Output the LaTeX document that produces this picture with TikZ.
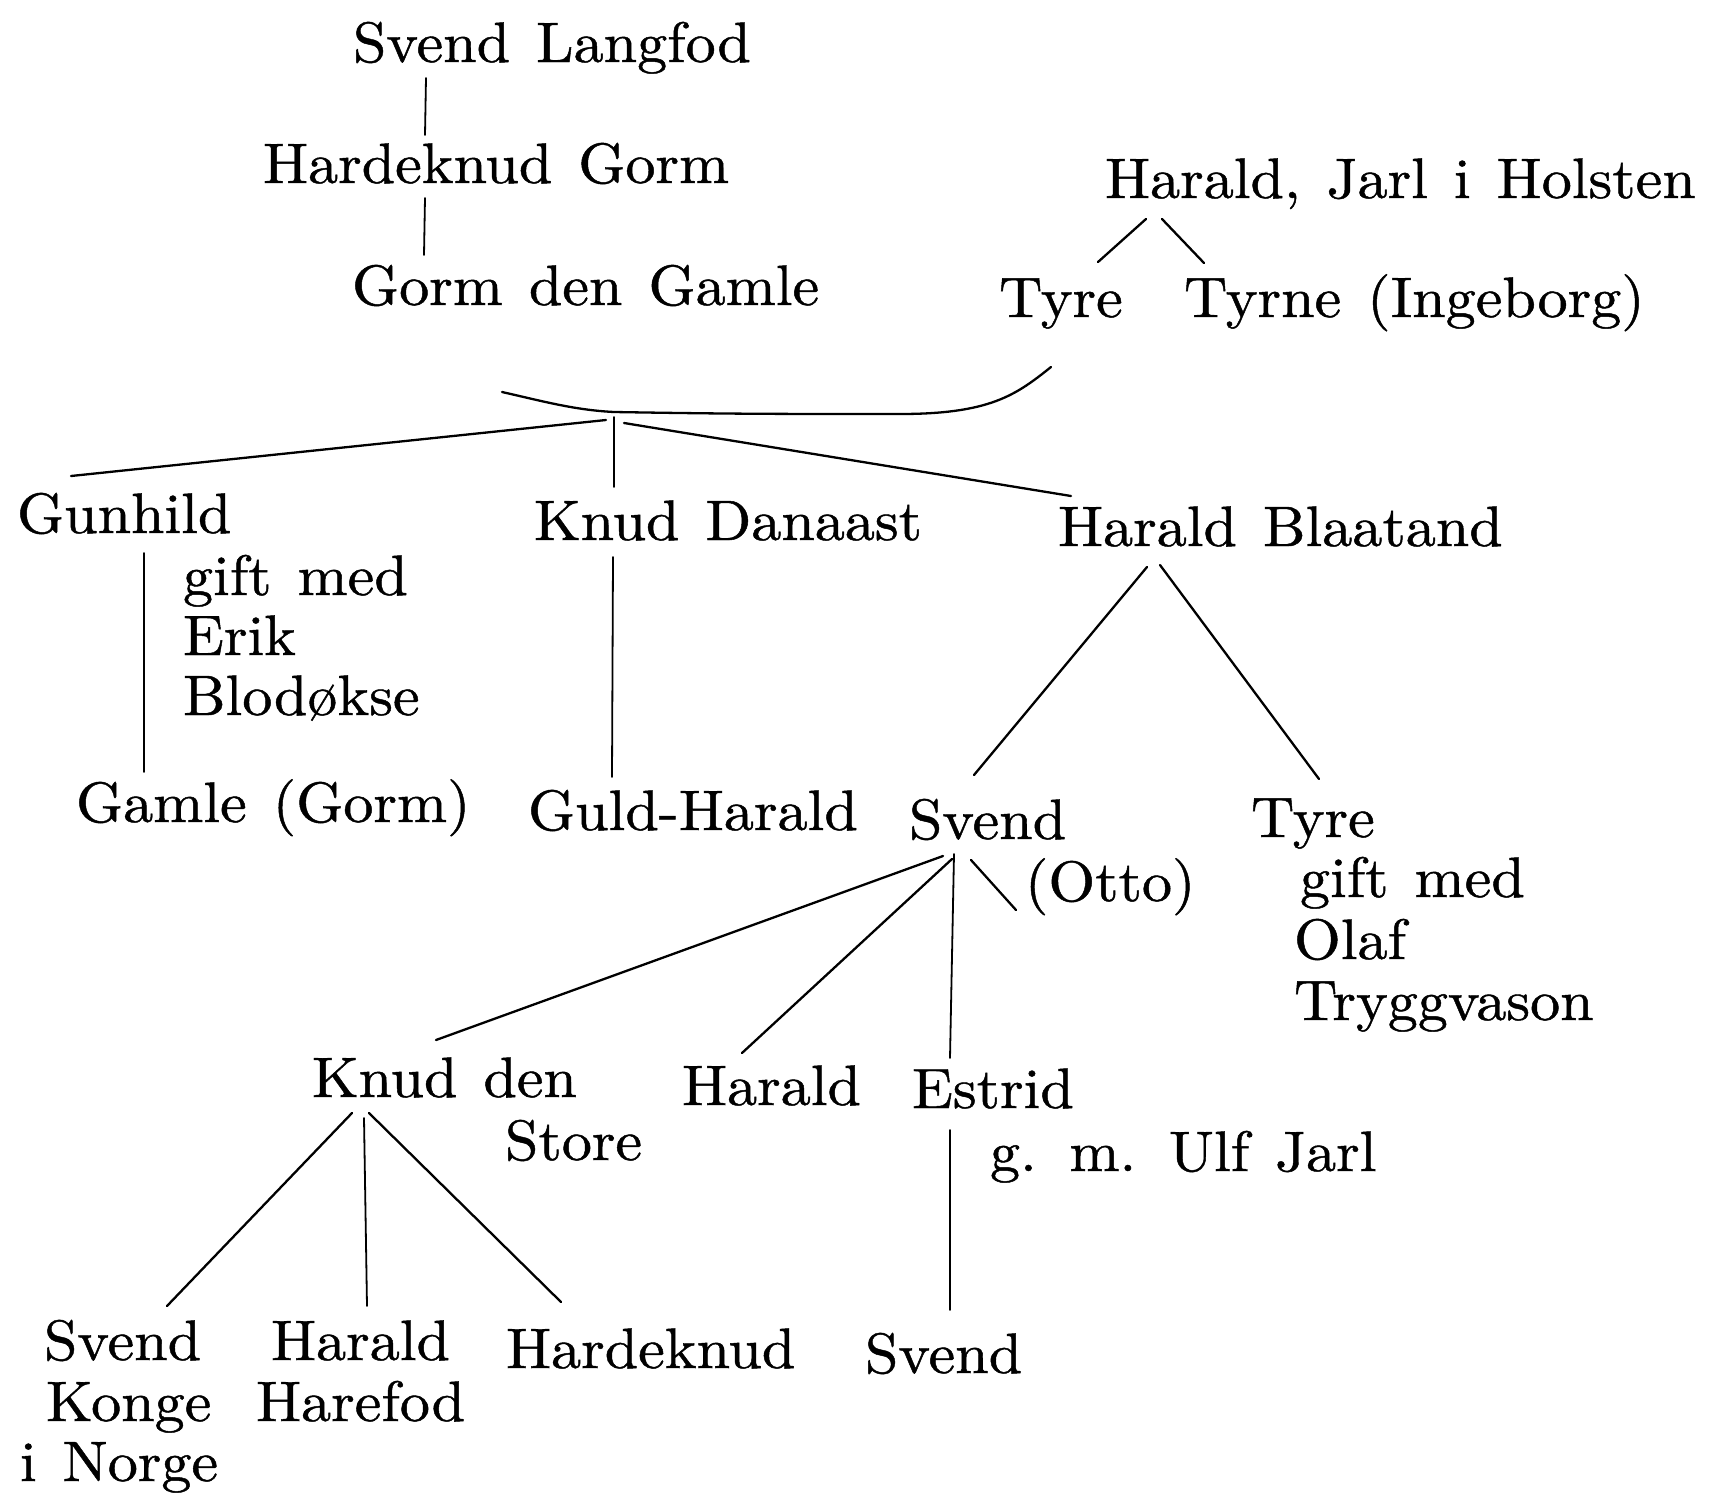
\documentclass[tikz,border=0pt]{standalone}
\usepackage{fontspec}
\newfontfamily\treefont{lmroman10-regular}[Extension=.otf,FakeStretch=1.055,FakeBold=0.8]
\begin{document}
\begin{tikzpicture}[x=1pt,y=-1pt,
  lbl/.style={anchor=base west,inner sep=0pt,outer sep=0pt,
    font={\treefont\fontsize{57}{68}\selectfont\spaceskip=26pt\relax}},
  con/.style={line width=2.3pt,line cap=round},
  thin con/.style={line width=1.8pt,line cap=round}]
\useasboundingbox[fill=white] (0,0) rectangle (1716,1494);
% nodes
\node[lbl] (sl) at (353,62) {Svend Langfod};
\node[lbl] (hg) at (263,183) {Hardeknud Gorm};
\node[lbl] (gg) at (352,305) {Gorm den Gamle};
\node[lbl] (hj) at (1105,198) {Harald, Jarl i Holsten};
\node[lbl] (ty1) at (999,317) {Tyre};
\node[lbl] (tyi) at (1184,317) {Tyrne (Ingeborg)};
\node[lbl] (gun) at (17,533) {Gunhild};
\node[lbl] (gm1) at (183,595) {gift med};
\node[lbl] (erik) at (183,655) {Erik};
\node[lbl] (blod) at (183,715) {Blodøkse};
\node[lbl] (kd) at (534,540) {Knud Danaast};
\node[lbl] (hb) at (1058,546) {Harald Blaatand};
\node[lbl] (gam) at (76,822) {Gamle (Gorm)};
\node[lbl] (guld) at (528,830) {Guld-Harald};
\node[lbl] (sv) at (909,839) {Svend};
\node[lbl] (otto) at (1025,901) {(Otto)};
\node[lbl] (ty2) at (1251,837) {Tyre};
\node[lbl] (gm2) at (1300,897) {gift med};
\node[lbl] (olaf) at (1294,959) {Olaf};
\node[lbl] (tryg) at (1294,1020) {Tryggvason};
\node[lbl] (knud) at (312,1097) {Knud den};
\node[lbl] (store) at (505,1160) {Store};
\node[lbl] (har) at (682,1105) {Harald};
\node[lbl] (est) at (912,1108) {Estrid};
\node[lbl] (gmu) at (990,1171) {g. m. Ulf Jarl};
\node[lbl] (svk) at (44,1360) {Svend};
\node[lbl] (konge) at (46,1421) {Konge};
\node[lbl] (inorge) at (20,1481) {i Norge};
\node[lbl] (hh) at (271,1360) {Harald};
\node[lbl] (harefod) at (256,1421) {Harefod};
\node[lbl] (hk) at (506,1368) {Hardeknud};
\node[lbl] (svb) at (865,1373) {Svend};
% connectors
\draw[thin con] ([shift={(73,16)}]sl.base west) -- ([shift={(162,-48)}]hg.base west);
\draw[thin con] ([shift={(162,15)}]hg.base west) -- ([shift={(72,-50)}]gg.base west);
\draw[con] ([shift={(41,21)}]hj.base west) -- ([shift={(99,-55)}]ty1.base west);
\draw[con] ([shift={(57,21)}]hj.base west) -- ([shift={(20,-54)}]tyi.base west);
% marriage
\coordinate (mar) at (614,412);
\coordinate (marR) at (900,414);
\draw[con] ([shift={(150,87)}]gg.base west) .. controls +(40,9) and +(-40,-2) .. (mar)
  .. controls +(120,2) and +(-120,0) .. (marR)
  .. controls +(90,0) and +(-35,28) .. ([shift={(52,50)}]ty1.base west);
\draw[thin con] ([shift={(0,5)}]mar) -- ([shift={(80,-53)}]kd.base west);
\draw[con] ([shift={(-8,8)}]mar) -- ([shift={(54,-57)}]gun.base west);
\draw[con] ([shift={(10,11)}]mar) -- ([shift={(13,-50)}]hb.base west);
% generation 2
\draw[thin con] ([shift={(127,20)}]gun.base west) -- ([shift={(68,-50)}]gam.base west);
\draw[thin con] ([shift={(79,17)}]kd.base west) -- ([shift={(84,-53)}]guld.base west);
\draw[con] ([shift={(89,21)}]hb.base west) -- ([shift={(65,-64)}]sv.base west);
\draw[con] ([shift={(102,19)}]hb.base west) -- ([shift={(68,-58)}]ty2.base west);
% generation 3
\draw[con] ([shift={(34,17)}]sv.base west) -- ([shift={(124,-57)}]knud.base west);
\draw[con] ([shift={(43,20)}]sv.base west) -- ([shift={(60,-52)}]har.base west);
\draw[thin con] ([shift={(45,15)}]sv.base west) -- ([shift={(38,-50)}]est.base west);
\draw[con] ([shift={(62,21)}]sv.base west) -- ([shift={(-9,9)}]otto.base west);
\draw[thin con] ([shift={(38,22)}]est.base west) -- ([shift={(85,-63)}]svb.base west);
% generation 4
\draw[con] ([shift={(40,16)}]knud.base west) -- ([shift={(123,-54)}]svk.base west);
\draw[thin con] ([shift={(52,21)}]knud.base west) -- ([shift={(96,-54)}]hh.base west);
\draw[con] ([shift={(57,16)}]knud.base west) -- ([shift={(55,-66)}]hk.base west);
\end{tikzpicture}
\end{document}
